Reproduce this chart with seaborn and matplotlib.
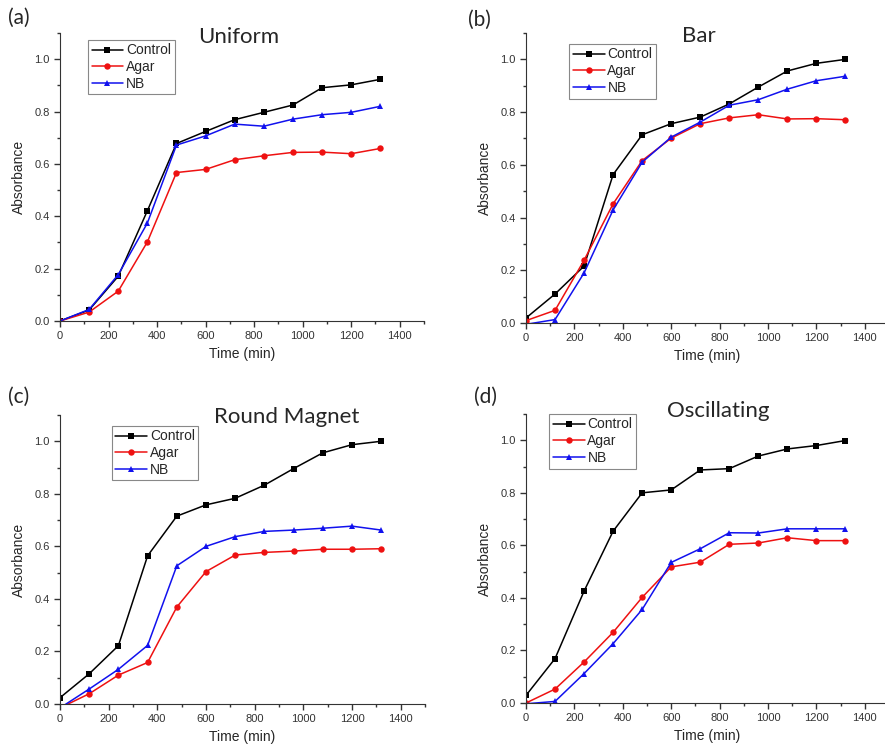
import pandas as pd
import numpy as np
import matplotlib
matplotlib.use("Agg")
import matplotlib.pyplot as plt
from matplotlib.ticker import MultipleLocator
import seaborn as sns

# sample times (min)
time = [0, 120, 240, 360, 480, 600, 720, 840, 960, 1080, 1200, 1320]

# (a) Uniform
uniform_control = [0.0, 0.042, 0.171, 0.421, 0.678, 0.724, 0.769, 0.797, 0.825, 0.891, 0.902, 0.923]
uniform_agar = [0.0, 0.034, 0.114, 0.302, 0.567, 0.579, 0.616, 0.631, 0.644, 0.645, 0.639, 0.659]
uniform_nb = [0.0, 0.044, 0.177, 0.374, 0.672, 0.707, 0.752, 0.744, 0.771, 0.788, 0.797, 0.820]

# (b) Bar
bar_control = [0.019, 0.11, 0.216, 0.563, 0.714, 0.756, 0.781, 0.831, 0.895, 0.956, 0.985, 1.0]
bar_agar = [0.009, 0.048, 0.238, 0.452, 0.616, 0.701, 0.756, 0.778, 0.790, 0.774, 0.775, 0.771]
bar_nb = [-0.005, 0.013, 0.19, 0.429, 0.61, 0.705, 0.762, 0.826, 0.847, 0.887, 0.919, 0.936]

# (c) Round Magnet
round_control = [0.024, 0.115, 0.222, 0.564, 0.715, 0.758, 0.783, 0.833, 0.896, 0.956, 0.987, 1.0]
round_agar = [-0.015, 0.039, 0.11, 0.158, 0.369, 0.504, 0.567, 0.577, 0.582, 0.589, 0.589, 0.591]
round_nb = [-0.015, 0.057, 0.132, 0.223, 0.526, 0.6, 0.637, 0.657, 0.662, 0.669, 0.677, 0.662]

# (d) Oscillating
osc_control = [0.029, 0.169, 0.426, 0.654, 0.8, 0.811, 0.887, 0.892, 0.94, 0.967, 0.98, 0.999]
osc_agar = [0.0, 0.053, 0.156, 0.269, 0.402, 0.518, 0.536, 0.604, 0.609, 0.629, 0.618, 0.618]
osc_nb = [-0.003, 0.006, 0.112, 0.226, 0.356, 0.535, 0.587, 0.648, 0.647, 0.663, 0.663, 0.663]

series_names = ["Control", "Agar", "NB"]
panels = [
    ("(a)", "Uniform", [uniform_control, uniform_agar, uniform_nb]),
    ("(b)", "Bar", [bar_control, bar_agar, bar_nb]),
    ("(c)", "Round Magnet", [round_control, round_agar, round_nb]),
    ("(d)", "Oscillating", [osc_control, osc_agar, osc_nb]),
]

sns.set_style("ticks")
plt.rcParams["font.family"] = ["Liberation Sans", "DejaVu Sans"]
plt.rcParams["axes.edgecolor"] = "#333333"
plt.rcParams["xtick.color"] = "#333333"
plt.rcParams["ytick.color"] = "#333333"

palette = {"Control": "black", "Agar": "#ee1111", "NB": "#1111ee"}
markers = {"Control": "s", "Agar": "o", "NB": "^"}

fig = plt.figure(figsize=(8.85, 7.5), dpi=100)
W, H = 885.0, 750.0

# axes boxes in pixels: left, top, right, bottom
boxes = [(60, 33, 424, 321), (526, 33, 889, 323), (60, 415, 425, 704), (526, 414, 889, 703)]
title_pos = [(0.49, 0.986), (0.475, 0.99), (0.62, 0.993), (0.53, 1.012)]
legend_pos = [(0.077, 0.976), (0.119, 0.962), (0.142, 0.962), (0.064, 1.0)]
letter_pos = [(8, 18), (468, 20), (8, 397), (474, 397)]

for i, (letter, title, vals) in enumerate(panels):
    l, t, r, b = boxes[i]
    ax = fig.add_axes([l / W, 1 - b / H, (r - l) / W, (b - t) / H])
    df = pd.DataFrame({
        "Time (min)": time * 3,
        "Absorbance": vals[0] + vals[1] + vals[2],
        "Series": [n for n in series_names for _ in time],
    })
    sns.lineplot(data=df, x="Time (min)", y="Absorbance", hue="Series", style="Series",
                 palette=palette, markers=markers, dashes=False, ax=ax,
                 linewidth=1.1, markersize=4.6, markeredgewidth=0)
    ax.set_xlim(0, 1500)
    ax.set_ylim(0, 1.1)
    ax.xaxis.set_major_locator(MultipleLocator(200))
    ax.xaxis.set_minor_locator(MultipleLocator(100))
    ax.yaxis.set_major_locator(MultipleLocator(0.2))
    ax.yaxis.set_minor_locator(MultipleLocator(0.1))
    ax.set_xticks(np.arange(0, 1401, 200))
    ax.yaxis.set_major_formatter(matplotlib.ticker.FormatStrFormatter("%.1f"))
    ax.tick_params(which="major", length=4, width=1, labelsize=8, direction="out")
    ax.tick_params(which="minor", length=2.5, width=1, direction="out")
    sns.despine(ax=ax)
    ax.set_xlabel("Time (min)", fontsize=10, labelpad=4)
    ax.set_ylabel("Absorbance", fontsize=10, labelpad=6)

    handles, labels = ax.get_legend_handles_labels()
    leg = ax.legend(handles, labels, loc="upper left", bbox_to_anchor=legend_pos[i],
                    borderaxespad=0, fontsize=10, fancybox=False, framealpha=1,
                    edgecolor="#888888", handlelength=2.3, handletextpad=0.2,
                    labelspacing=0.2, borderpad=0.25)
    leg.get_frame().set_linewidth(0.8)

    ax.text(title_pos[i][0], title_pos[i][1], title, transform=ax.transAxes,
            ha="center", va="center", fontsize=16, family=["Lato", "DejaVu Sans"])
    fig.text(letter_pos[i][0] / W, 1 - letter_pos[i][1] / H, letter,
             ha="left", va="center", fontsize=15, family=["Lato", "DejaVu Sans"])

fig.savefig("out.png", dpi=100)
